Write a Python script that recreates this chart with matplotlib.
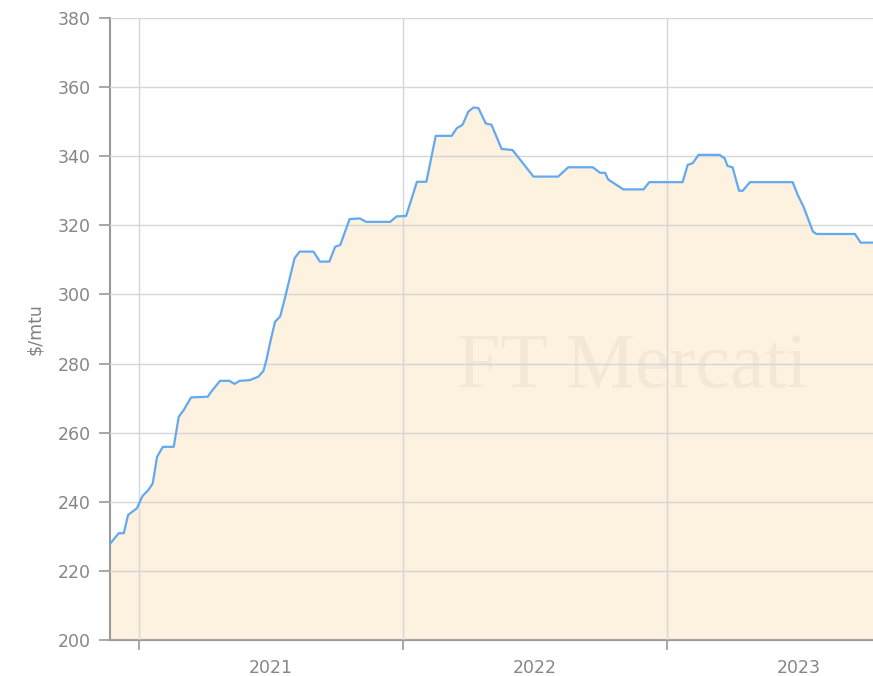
import matplotlib.pyplot as plt
import matplotlib.dates as mdates
import numpy as np
import pandas as pd


# weekly price ($/mtu)
dates = ['2020-11-22', '2020-12-04', '2020-12-11', '2020-12-17', '2020-12-29',
         '2021-01-06', '2021-01-14', '2021-01-20', '2021-01-26', '2021-02-03',
         '2021-02-18', '2021-02-25', '2021-03-04', '2021-03-14', '2021-04-06',
         '2021-04-11', '2021-04-23', '2021-05-06', '2021-05-13', '2021-05-20',
         '2021-06-03', '2021-06-15', '2021-06-22', '2021-06-26', '2021-07-02',
         '2021-07-08', '2021-07-15', '2021-07-21', '2021-08-04', '2021-08-11',
         '2021-08-30', '2021-09-08', '2021-09-21', '2021-09-29', '2021-10-06',
         '2021-10-19', '2021-11-02', '2021-11-11', '2021-12-14', '2021-12-23',
         '2022-01-05', '2022-01-20', '2022-02-02', '2022-02-15', '2022-03-09',
         '2022-03-16', '2022-03-24', '2022-04-01', '2022-04-08', '2022-04-15',
         '2022-04-25', '2022-05-03', '2022-05-17', '2022-06-01', '2022-06-30',
         '2022-08-03', '2022-08-17', '2022-09-20', '2022-09-30', '2022-10-07',
         '2022-10-11', '2022-11-01', '2022-11-29', '2022-12-07', '2023-01-22',
         '2023-01-29', '2023-02-05', '2023-02-13', '2023-03-14', '2023-03-21',
         '2023-03-25', '2023-04-01', '2023-04-10', '2023-04-15', '2023-04-25',
         '2023-06-23', '2023-06-30', '2023-07-08', '2023-07-21', '2023-07-26',
         '2023-09-17', '2023-09-25', '2023-10-12']
prices = [227.8, 230.9, 230.9, 236.2, 238.1,
          241.7, 243.4, 245.3, 253.0, 255.9,
          255.9, 264.6, 266.6, 270.2, 270.4,
          271.9, 275.0, 275.0, 274.1, 275.0,
          275.2, 276.2, 277.9, 281.0, 286.8,
          292.1, 293.6, 298.4, 310.5, 312.4,
          312.4, 309.5, 309.5, 313.8, 314.3,
          321.8, 322.0, 321.0, 321.0, 322.6,
          322.7, 332.6, 332.6, 345.9, 345.9,
          348.1, 349.1, 352.9, 354.1, 353.9,
          349.5, 349.1, 342.1, 341.8, 334.1,
          334.1, 336.8, 336.8, 335.2, 335.2,
          333.3, 330.4, 330.4, 332.5, 332.5,
          337.5, 338.0, 340.4, 340.4, 339.4,
          337.2, 336.8, 330.0, 330.0, 332.5,
          332.5, 328.8, 325.4, 318.2, 317.5,
          317.5, 315.0, 315.0]
years = ['2021', '2022', '2023']

x = pd.to_datetime(dates)
y = np.array(prices)

plt.rcParams['font.family'] = 'DejaVu Sans'

fig = plt.figure(figsize=(8.73, 6.76), dpi=100)
ax = fig.add_axes([110/873, 36/676, 763/873, 622/676])

ax.fill_between(x, 200, y, color='#fdf1df', zorder=1, linewidth=0)
ax.plot(x, y, color='#62a9ef', lw=1.6, zorder=3)

# faint watermark
ax.text(0.684, 0.437, 'FT Mercati', transform=ax.transAxes, ha='center', va='center',
        fontsize=56, family='Liberation Serif', color='#000000', alpha=0.04, zorder=2)

ax.set_ylim(200, 380)
ax.set_yticks(np.arange(200, 381, 20))
ax.set_xlim(x[0], x[-1])

ax.xaxis.set_major_locator(mdates.YearLocator())
ax.xaxis.set_major_formatter(plt.NullFormatter())
ax.set_xticks([pd.Timestamp(yr + '-07-02') for yr in years], minor=True)
ax.set_xticklabels(years, minor=True)
ax.tick_params(axis='x', which='minor', length=0, pad=14)
ax.tick_params(axis='x', which='major', length=7, width=1.2, color='#999999')
ax.tick_params(axis='y', length=8, width=1.2, color='#999999', pad=6)
ax.tick_params(axis='both', which='both', labelsize=12.5, labelcolor='#868686')

ax.grid(True, which='major', color='#d6d6d6', lw=1, zorder=0)
ax.set_axisbelow(False)
for gl in ax.get_xgridlines() + ax.get_ygridlines():
    gl.set_zorder(1.5)

for s in ['top', 'right']:
    ax.spines[s].set_visible(False)
for s in ['left', 'bottom']:
    ax.spines[s].set_color('#999999')
    ax.spines[s].set_linewidth(1.5)

ax.set_ylabel('$/mtu', fontsize=12.5, color='#808080', labelpad=10)

fig.savefig('out.png', dpi=100)
